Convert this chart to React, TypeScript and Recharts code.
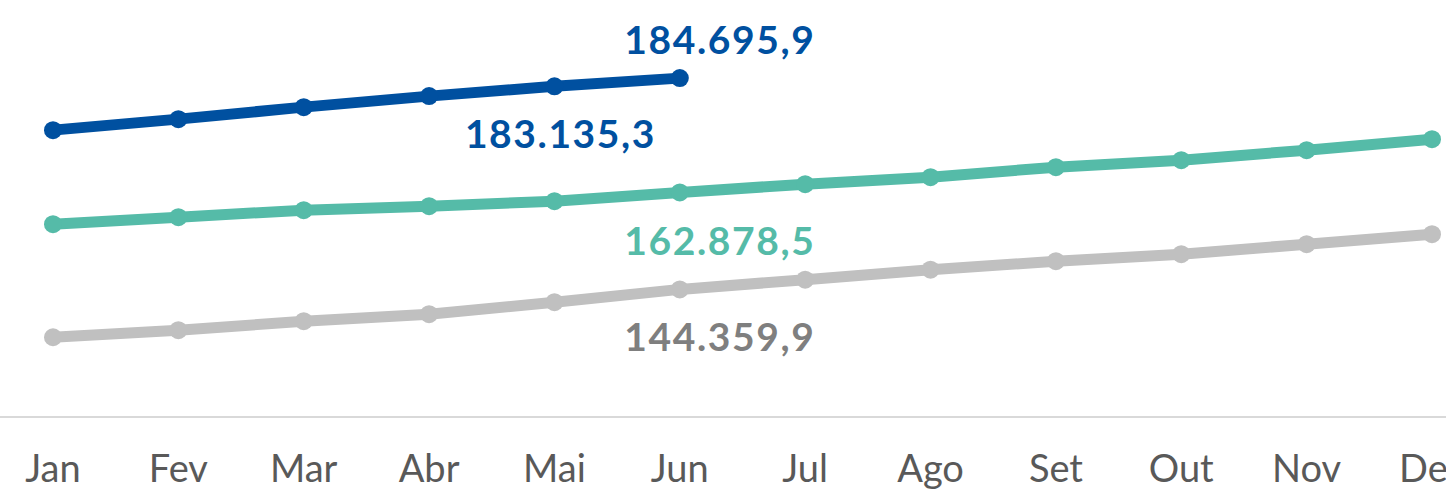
import { LineChart, Line, XAxis, YAxis, LabelList } from 'recharts';

const months = ['Jan', 'Fev', 'Mar', 'Abr', 'Mai', 'Jun', 'Jul', 'Ago', 'Set', 'Out', 'Nov', 'Dez'];
const current = [174764, 176865, 179157, 181258, 183135.3, 184695.9];
const previous = [156810, 158147, 159485, 160250, 161203, 162878.5, 164450, 165787, 167697, 169034, 170944, 173043];
const older = [135227, 136564, 138283, 139620, 141912, 144359.9, 146216, 148115, 149743, 151080, 152990, 154900];

const data = months.map((m, i) => ({
  month: m,
  current: i < current.length ? current[i] : null,
  previous: previous[i],
  older: older[i],
}));

const fmt = (v: number) =>
  v.toLocaleString('pt-BR', { minimumFractionDigits: 1, maximumFractionDigits: 1 });

const FONT = 'Lato, "Noto Sans", sans-serif';

// which points get a value label, and where
function makeLabel(color: string, spots: Record<number, { dx: number; dy: number }>) {
  return (props: any) => {
    const { x, y, value, index } = props;
    const spot = spots[index];
    if (!spot || value == null) return null;
    return (
      <text
        x={x + spot.dx}
        y={y + spot.dy}
        fill={color}
        textAnchor="middle"
        dominantBaseline="central"
        fontFamily={FONT}
        fontWeight={700}
        fontSize={39}
        letterSpacing={1.6}
      >
        {fmt(value)}
      </text>
    );
  };
}

export default function App() {
  return (
    <div style={{ position: 'absolute', left: 0, top: 0, background: '#fff' }}>
      <LineChart width={1446} height={494} data={data} margin={{ top: 10, right: 0, bottom: 0, left: 0 }}>
        <XAxis
          dataKey="month"
          padding={{ left: 53, right: 14 }}
          height={77}
          axisLine={{ stroke: '#D9D9D9', strokeWidth: 2 }}
          tickLine={false}
          tickSize={0}
          tickMargin={38}
          interval={0}
          tick={{ fill: '#595959', fontSize: 38, fontFamily: FONT }}
        />
        <YAxis hide domain={[120000, 197700]} />
        <Line
          dataKey="older"
          stroke="#C0C0C0"
          strokeWidth={11}
          dot={{ r: 9, fill: '#C0C0C0', stroke: 'none' }}
          isAnimationActive={false}
        >
          <LabelList dataKey="older" content={makeLabel('#7F7F7F', { 5: { dx: 40, dy: 47 } })} />
        </Line>
        <Line
          dataKey="previous"
          stroke="#55BBA8"
          strokeWidth={11}
          dot={{ r: 9, fill: '#55BBA8', stroke: 'none' }}
          isAnimationActive={false}
        >
          <LabelList dataKey="previous" content={makeLabel('#55BBA8', { 5: { dx: 40, dy: 48 } })} />
        </Line>
        <Line
          dataKey="current"
          stroke="#0050A0"
          strokeWidth={11}
          dot={{ r: 9, fill: '#0050A0', stroke: 'none' }}
          isAnimationActive={false}
        >
          <LabelList
            dataKey="current"
            content={makeLabel('#0050A0', { 4: { dx: 6, dy: 47 }, 5: { dx: 40, dy: -39 } })}
          />
        </Line>
      </LineChart>
    </div>
  );
}
